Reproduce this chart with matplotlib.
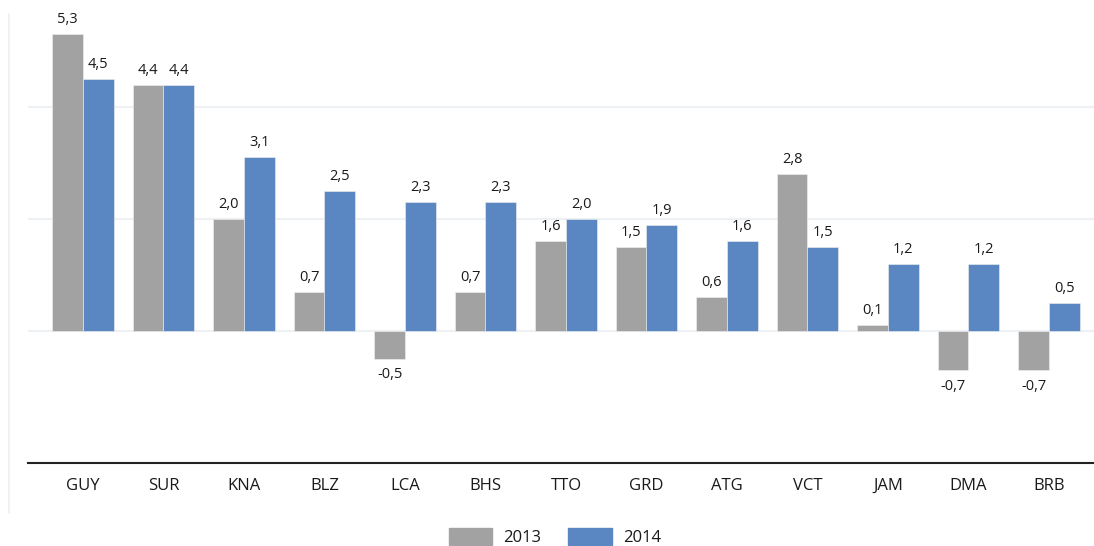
import matplotlib
matplotlib.use('Agg')
import matplotlib.pyplot as plt
import matplotlib.patches as mpatches
from matplotlib.lines import Line2D
import numpy as np

#------------------------------------------------------------------------------
### Data

countries = ['GUY', 'SUR', 'KNA', 'BLZ', 'LCA', 'BHS', 'TTO', 'GRD', 'ATG',
	'VCT', 'JAM', 'DMA', 'BRB']
values_2013 = [5.3, 4.4, 2.0, 0.7, -0.5, 0.7, 1.6, 1.5, 0.6, 2.8, 0.1, -0.7, -0.7]
values_2014 = [4.5, 4.4, 3.1, 2.5, 2.3, 2.3, 2.0, 1.9, 1.6, 1.5, 1.2, 1.2, 0.5]
series_labels = ['2013', '2014']

#------------------------------------------------------------------------------
### Style

W, H = 1094, 546
COLOR_2013 = '#A2A2A2'
COLOR_2014 = '#5A87C1'
GRID_COLOR = '#EDF1F4'
TEXT_COLOR = '#1A1A1A'
BAR_WIDTH = 0.38
FONT = 'Open Sans'

plt.rcParams['font.family'] = FONT

fig = plt.figure(figsize=(W/100, H/100), dpi=100)
ax = fig.add_axes([28/W, 1 - 463/H, 1066/W, 463/H])

x = np.arange(len(countries))
bars1 = ax.bar(x - BAR_WIDTH/2, values_2013, BAR_WIDTH, color=COLOR_2013,
	edgecolor='#F2F2F2', linewidth=0.4, zorder=3, label=series_labels[0])
bars2 = ax.bar(x + BAR_WIDTH/2, values_2014, BAR_WIDTH, color=COLOR_2014,
	edgecolor='#F2F2F2', linewidth=0.4, zorder=3, label=series_labels[1])

# Value labels with decimal comma
for bars in (bars1, bars2):
	for b in bars:
		v = b.get_height()
		xc = b.get_x() + b.get_width()/2
		txt = '{:.1f}'.format(v).replace('.', ',')
		if v >= 0:
			ax.annotate(txt, (xc, v), xytext=(0, 5), textcoords='offset points',
				ha='center', va='bottom', fontsize=10.5, color=TEXT_COLOR)
		else:
			ax.annotate(txt, (xc, v), xytext=(0, -6), textcoords='offset points',
				ha='center', va='top', fontsize=10.5, color=TEXT_COLOR)

# Axes limits and grid
ax.set_xlim(-0.683, 12.56)
ax.set_ylim(-2.357, 5.91)
for g in (0, 2, 4):
	ax.axhline(g, color=GRID_COLOR, linewidth=1.5, zorder=1)

for s in ('top', 'right', 'left'):
	ax.spines[s].set_visible(False)
ax.spines['bottom'].set_color('#222222')
ax.spines['bottom'].set_linewidth(1.5)
ax.set_yticks([])
ax.set_xticks(x)
ax.set_xticklabels(countries, fontsize=12, color=TEXT_COLOR)
ax.tick_params(axis='x', length=0, pad=11)

# Faint chart border on the left
fig.add_artist(Line2D([9/W, 9/W], [1 - 14/H, 1 - 513/H], color='#EEF1F3',
	linewidth=1.2))

# Legend at the bottom
handles = [mpatches.Patch(color=COLOR_2013), mpatches.Patch(color=COLOR_2014)]
fig.legend(handles, series_labels, loc='center', ncol=2, frameon=False,
	bbox_to_anchor=(555/W, 1 - 537/H), fontsize=12, handlelength=2.6,
	handleheight=1.15, handletextpad=0.7, columnspacing=1.6,
	labelcolor=TEXT_COLOR)

plt.savefig('out.png', dpi=100)
plt.close()
